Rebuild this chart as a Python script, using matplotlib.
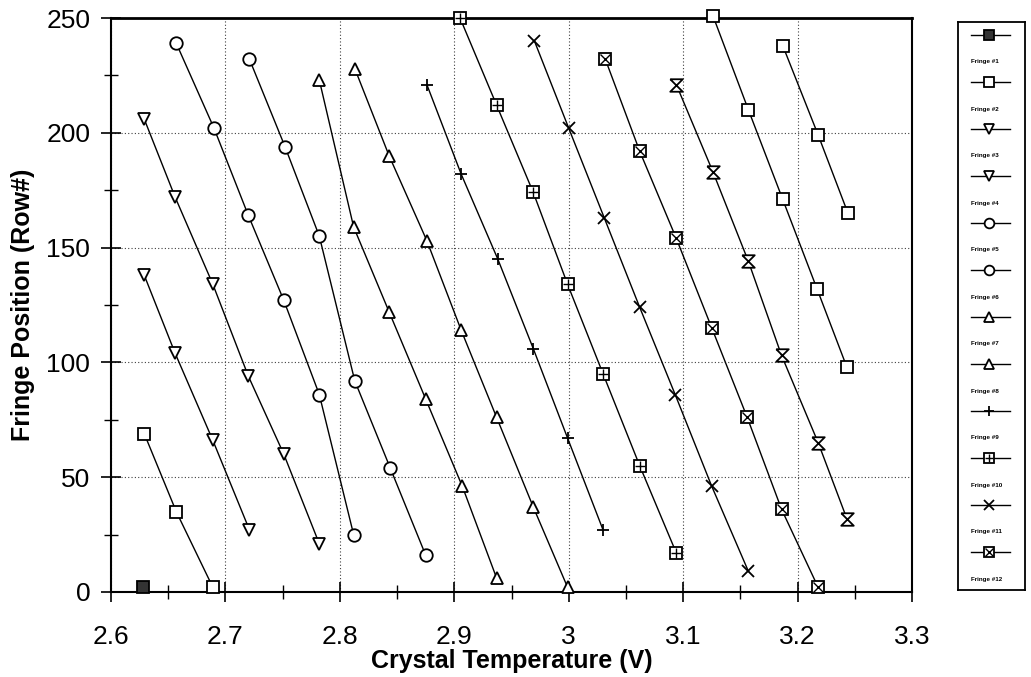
import matplotlib.pyplot as plt
from matplotlib.ticker import MultipleLocator, FuncFormatter

plt.rcParams['font.family'] = ['Liberation Sans', 'DejaVu Sans']

# --- DATA ---
fringe1_x = [2.628]
fringe1_y = [2]
fringe2_x = [2.629, 2.657, 2.689]
fringe2_y = [69, 35, 2]
fringe3_x = [2.629, 2.656, 2.689, 2.721]
fringe3_y = [138, 104, 66, 27]
fringe4_x = [2.629, 2.656, 2.689, 2.720, 2.751, 2.782]
fringe4_y = [206, 172, 134, 94, 60, 21]
fringe5_x = [2.657, 2.690, 2.720, 2.751, 2.782, 2.812]
fringe5_y = [239, 202, 164, 127, 86, 25]
fringe6_x = [2.721, 2.752, 2.782, 2.813, 2.844, 2.875]
fringe6_y = [232, 194, 155, 92, 54, 16]
fringe7_x = [2.782, 2.812, 2.843, 2.875, 2.907, 2.937]
fringe7_y = [223, 159, 122, 84, 46, 6]
fringe8_x = [2.813, 2.843, 2.876, 2.906, 2.937, 2.969, 2.999]
fringe8_y = [228, 190, 153, 114, 76, 37, 2]
fringe9_x = [2.876, 2.906, 2.938, 2.969, 2.999, 3.030]
fringe9_y = [221, 182, 145, 106, 67, 27]
fringe10_x = [2.905, 2.937, 2.969, 2.999, 3.030, 3.062, 3.094]
fringe10_y = [250, 212, 174, 134, 95, 55, 17]
fringe11_x = [2.970, 3.000, 3.031, 3.062, 3.093, 3.125, 3.157]
fringe11_y = [240, 202, 163, 124, 86, 46, 9]
fringe12_x = [3.032, 3.062, 3.094, 3.125, 3.156, 3.186, 3.218]
fringe12_y = [232, 192, 154, 115, 76, 36, 2]
fringe13_x = [3.094, 3.126, 3.157, 3.186, 3.218, 3.243]
fringe13_y = [221, 183, 144, 103, 65, 32]
fringe14_x = [3.126, 3.157, 3.187, 3.217, 3.243]
fringe14_y = [251, 210, 171, 132, 98]
fringe15_x = [3.187, 3.218, 3.244]
fringe15_y = [238, 199, 165]

labels = ['Fringe #%d' % i for i in range(1, 16)]
xs = [fringe1_x, fringe2_x, fringe3_x, fringe4_x, fringe5_x, fringe6_x, fringe7_x,
      fringe8_x, fringe9_x, fringe10_x, fringe11_x, fringe12_x, fringe13_x,
      fringe14_x, fringe15_x]
ys = [fringe1_y, fringe2_y, fringe3_y, fringe4_y, fringe5_y, fringe6_y, fringe7_y,
      fringe8_y, fringe9_y, fringe10_y, fringe11_y, fringe12_y, fringe13_y,
      fringe14_y, fringe15_y]
n_legend = 12  # the legend box only lists the first twelve

x_ticks = [2.6, 2.7, 2.8, 2.9, 3.0, 3.1, 3.2, 3.3]
y_ticks = [0, 50, 100, 150, 200, 250]

# --- STYLES ---
hourglass = [(-1, 1), (1, 1), (-1, -1), (1, -1), (-1, 1)]
# (marker, facecolor, overlay marker)
styles = [('s', '0.2', None), ('s', 'white', None), ('v', 'white', None),
          ('v', 'white', None), ('o', 'white', None), ('o', 'white', None),
          ('^', 'white', None), ('^', 'white', None), ('+', 'white', None),
          ('s', 'white', '+'), ('x', 'white', None), ('s', 'white', 'x'),
          (hourglass, 'white', None), ('s', 'white', None), ('s', 'white', None)]


def draw(ax, x, y, style, ms, every=None):
    marker, fc, over = style
    ax.plot(x, y, color='black', linewidth=1.0, marker=marker, markersize=ms,
            markerfacecolor=fc, markeredgecolor='black', markeredgewidth=1.3,
            markevery=every, clip_on=False, zorder=3)
    if over is not None:
        ax.plot(x, y, linestyle='none', marker=over, markersize=ms * 0.75,
                markeredgecolor='black', markeredgewidth=1.0, markevery=every,
                clip_on=False, zorder=4)


fig = plt.figure(figsize=(10.31, 6.77), dpi=100)
ax = fig.add_axes([0.1077, 0.1256, 0.7769, 0.8478])

for x, y, st in zip(xs, ys, styles):
    draw(ax, x, y, st, 9)

ax.set_xlim(2.6, 3.3)
ax.set_ylim(0, 250)
ax.set_xticks(x_ticks)
ax.set_yticks(y_ticks)
ax.xaxis.set_minor_locator(MultipleLocator(0.05))
ax.yaxis.set_minor_locator(MultipleLocator(25))
ax.xaxis.set_major_formatter(FuncFormatter(lambda v, p: '%g' % round(v, 2)))
ax.tick_params(axis='both', which='major', direction='inout', length=14, width=1.2,
               labelsize=19, pad=8)
ax.tick_params(axis='x', which='major', pad=17)
ax.tick_params(axis='both', which='minor', direction='inout', length=10, width=1.0)
ax.grid(True, which='major', linestyle=(0, (1, 2)), color='0.25', linewidth=0.8)
for s in ax.spines.values():
    s.set_linewidth(1.5)
ax.spines['top'].set_linewidth(2)

ax.set_xlabel('Crystal Temperature (V)', fontsize=18, fontweight='bold', labelpad=0)
ax.set_ylabel('Fringe Position (Row#)', fontsize=18, fontweight='bold', labelpad=8)

# --- LEGEND (marker on top, label underneath, like the original) ---
lax = fig.add_axes([958 / 1031, 1 - 590 / 677, 67 / 1031, 568 / 677])
lax.set_xlim(0, 1)
lax.set_ylim(568, 0)
lax.set_xticks([])
lax.set_yticks([])
for s in lax.spines.values():
    s.set_linewidth(1.3)
for i in range(n_legend):
    ym = 13 + 47 * i
    draw(lax, [0.2, 0.47, 0.78], [ym, ym, ym], styles[i], 7, every=[1])
    lax.text(0.2, ym + 27, labels[i], fontsize=4.5, fontweight='bold',
             ha='left', va='center')

fig.savefig('out.png', dpi=100)
